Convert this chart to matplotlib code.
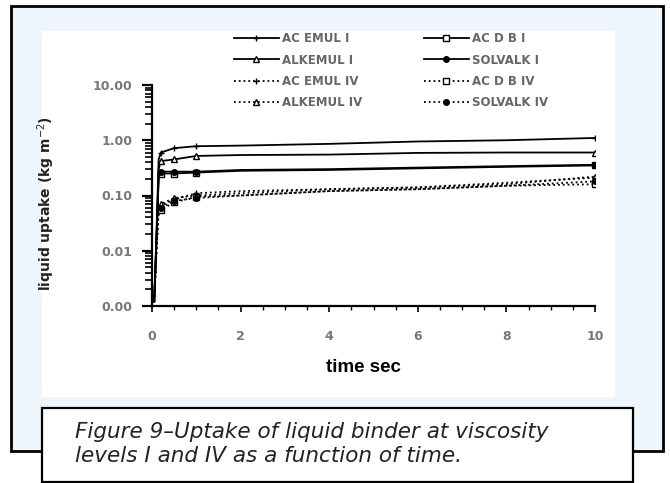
import matplotlib
matplotlib.use("Agg")
import matplotlib.pyplot as plt
from matplotlib.patches import Rectangle
from matplotlib.ticker import LogLocator, FixedLocator, MultipleLocator, FixedFormatter

# ---------------- data ----------------
time_s = [0.05, 0.1, 0.15, 0.2, 0.5, 1, 2, 4, 6, 8, 10]
acemul_1 = [0.0012, 0.02, 0.45, 0.60, 0.72, 0.78, 0.80, 0.86, 0.95, 1.00, 1.10]
acdb_1 = [0.0012, 0.015, 0.20, 0.25, 0.25, 0.26, 0.28, 0.29, 0.31, 0.33, 0.35]
alkemul_1 = [0.0012, 0.015, 0.30, 0.42, 0.45, 0.52, 0.54, 0.55, 0.59, 0.60, 0.60]
solvalk_1 = [0.0012, 0.015, 0.22, 0.27, 0.27, 0.27, 0.29, 0.30, 0.32, 0.34, 0.36]
acemul_4 = [0.0012, 0.01, 0.06, 0.065, 0.085, 0.11, 0.12, 0.13, 0.14, 0.17, 0.21]
acdb_4 = [0.0012, 0.01, 0.05, 0.055, 0.075, 0.095, 0.10, 0.12, 0.13, 0.15, 0.16]
alkemul_4 = [0.0012, 0.01, 0.06, 0.07, 0.09, 0.10, 0.11, 0.13, 0.14, 0.16, 0.22]
solvalk_4 = [0.0012, 0.01, 0.055, 0.06, 0.08, 0.09, 0.10, 0.12, 0.13, 0.15, 0.18]

series_labels = ["AC EMUL I", "AC D B I", "ALKEMUL I", "SOLVALK I",
                 "AC EMUL IV", "AC D B IV", "ALKEMUL IV", "SOLVALK IV"]
y_ticks = [0.001, 0.01, 0.1, 1, 10]
y_ticklabels = ["0.00", "0.01", "0.10", "1.00", "10.00"]
x_ticks = [0, 2, 4, 6, 8, 10]
x_ticklabels = ["0", "2", "4", "6", "8", "10"]

# ---------------- figure ----------------
W, H = 670, 483
fig = plt.figure(figsize=(W / 100, H / 100), dpi=100)
fig.patch.set_facecolor("white")

def fx(px):
    return px / W

def fy(py):
    return 1 - py / H

# outer light-blue panel with black border
fig.add_artist(Rectangle((fx(11), fy(451)), fx(663) - fx(11), fy(6) - fy(451),
                         transform=fig.transFigure, facecolor="#eef5fd",
                         edgecolor="black", linewidth=2.0, zorder=0))
# white chart area
fig.add_artist(Rectangle((fx(42), fy(397)), fx(615) - fx(42), fy(31) - fy(397),
                         transform=fig.transFigure, facecolor="white",
                         edgecolor="none", zorder=0.5))
# caption box
fig.add_artist(Rectangle((fx(42), fy(482)), fx(633) - fx(42), fy(408) - fy(482),
                         transform=fig.transFigure, facecolor="white",
                         edgecolor="black", linewidth=1.6, zorder=0.6))

ax = fig.add_axes([fx(152), fy(306), fx(595) - fx(152), fy(85) - fy(306)])
ax.set_facecolor("none")
ax.set_zorder(2)

mk = [3, 4, 5, 10]
styles = [
    (acemul_1, "+", "black", "-"),
    (acdb_1, "s", "white", "-"),
    (alkemul_1, "^", "white", "-"),
    (solvalk_1, "o", "black", "-"),
    (acemul_4, "+", "black", ":"),
    (acdb_4, "s", "white", ":"),
    (alkemul_4, "^", "white", ":"),
    (solvalk_4, "o", "black", ":"),
]
handles = []
for (vals, m, mfc, ls), lab in zip(styles, series_labels):
    h, = ax.plot(time_s, vals, color="black", linestyle=ls, linewidth=1.3,
                 marker=m, markersize=4, markerfacecolor=mfc,
                 markeredgecolor="black", markeredgewidth=1.0,
                 markevery=mk, label=lab)
    handles.append(h)

ax.set_yscale("log")
ax.set_ylim(0.001, 10)
ax.set_xlim(0, 10)
ax.yaxis.set_major_locator(FixedLocator(y_ticks))
ax.yaxis.set_major_formatter(FixedFormatter(y_ticklabels))
ax.yaxis.set_minor_locator(LogLocator(base=10, subs=range(2, 10)))
ax.xaxis.set_major_locator(FixedLocator(x_ticks))
ax.xaxis.set_major_formatter(FixedFormatter(x_ticklabels))
ax.xaxis.set_minor_locator(MultipleLocator(0.5))

for s in ["top", "right"]:
    ax.spines[s].set_visible(False)
for s in ["left", "bottom"]:
    ax.spines[s].set_linewidth(1.6)

ax.tick_params(axis="y", which="major", direction="out", length=7, width=1.6,
               pad=7, labelsize=9, labelcolor="#777777")
ax.tick_params(axis="y", which="minor", direction="out", length=5, width=1.2)
ax.tick_params(axis="x", which="major", direction="out", length=4, width=1.2,
               pad=13, labelsize=9, labelcolor="#777777")
ax.tick_params(axis="x", which="minor", direction="out", length=3, width=1.0)
for t in ax.get_xticklabels() + ax.get_yticklabels():
    t.set_fontweight("bold")

# legend (row-wise order across two columns)
order = [0, 2, 4, 6, 1, 3, 5, 7]
leg = fig.legend([handles[i] for i in order], [series_labels[i] for i in order],
                 ncol=2, loc="upper left", bbox_to_anchor=(fx(234), fy(32)),
                 frameon=False, fontsize=8.5, handlelength=3.8,
                 handletextpad=0.3, labelspacing=0.72, columnspacing=5.2,
                 borderpad=0, borderaxespad=0)
for t in leg.get_texts():
    t.set_color("#666666")
    t.set_fontweight("bold")

fig.text(fx(46), fy(204), "liquid uptake (kg m$^{-2}$)", rotation=90,
         ha="center", va="center", fontsize=10, fontweight="bold", color="#222222")

fig.text(fx(363), fy(367), "time sec", ha="center", va="center",
         fontsize=13.5, fontweight="bold", family="Liberation Sans", color="black")

fig.text(fx(75), fy(432), "Figure 9\u2013Uptake of liquid binder at viscosity",
         ha="left", va="center", fontsize=15.5, style="italic", color="#222222")
fig.text(fx(75), fy(456), "levels I and IV as a function of time.",
         ha="left", va="center", fontsize=15.5, style="italic", color="#222222")

fig.savefig("out.png", dpi=100)
